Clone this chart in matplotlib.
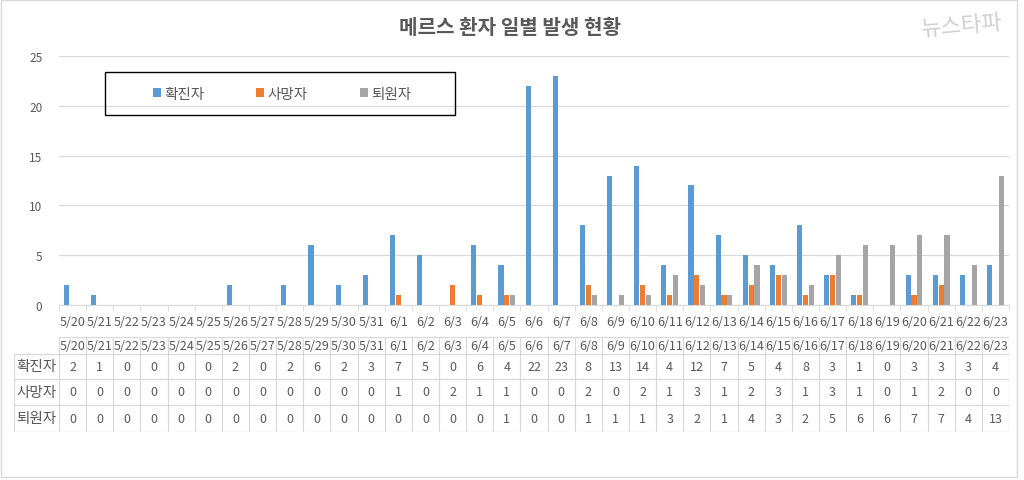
import matplotlib.pyplot as plt
import numpy as np
from matplotlib.patches import Rectangle

plt.rcParams['font.family'] = ['Noto Sans CJK KR', 'DejaVu Sans']

dates = ['5/20', '5/21', '5/22', '5/23', '5/24', '5/25', '5/26', '5/27', '5/28', '5/29', '5/30', '5/31',
         '6/1', '6/2', '6/3', '6/4', '6/5', '6/6', '6/7', '6/8', '6/9', '6/10', '6/11', '6/12', '6/13',
         '6/14', '6/15', '6/16', '6/17', '6/18', '6/19', '6/20', '6/21', '6/22', '6/23']
confirmed = [2, 1, 0, 0, 0, 0, 2, 0, 2, 6, 2, 3, 7, 5, 0, 6, 4, 22, 23, 8, 13, 14, 4, 12, 7,
             5, 4, 8, 3, 1, 0, 3, 3, 3, 4]
deaths = [0, 0, 0, 0, 0, 0, 0, 0, 0, 0, 0, 0, 1, 0, 2, 1, 1, 0, 0, 2, 0, 2, 1, 3, 1,
          2, 3, 1, 3, 1, 0, 1, 2, 0, 0]
discharged = [0, 0, 0, 0, 0, 0, 0, 0, 0, 0, 0, 0, 0, 0, 0, 0, 1, 0, 0, 1, 1, 1, 3, 2, 1,
              4, 3, 2, 5, 6, 6, 7, 7, 4, 13]
series_names = ['확진자', '사망자', '퇴원자']
colors = ['#5B9BD5', '#ED7D31', '#A5A5A5']

W, H = 1024, 481
TXT = '#595959'
GRID = '#D9D9D9'

fig = plt.figure(figsize=(W / 100, H / 100), dpi=100)


def fx(px):
    return px / W


def fy(py):
    return 1 - py / H


# main chart
ax = fig.add_axes([fx(59), fy(306), fx(1009) - fx(59), fy(57) - fy(306)])
x = np.arange(len(dates))
bw = 0.19
off = 0.215
series = [confirmed, deaths, discharged]
bars = []
for i, (vals, c) in enumerate(zip(series, colors)):
    b = ax.bar(x + (i - 1) * off, vals, width=bw, color=c, label=series_names[i], zorder=3)
    bars.append(b)

ax.set_xlim(-0.5, len(dates) - 0.5)
ax.set_ylim(0, 25)
ax.set_yticks(range(0, 26, 5))
ax.yaxis.grid(True, color=GRID, lw=0.9, zorder=0)
for s in ['top', 'right', 'left']:
    ax.spines[s].set_visible(False)
ax.spines['bottom'].set_color(GRID)
ax.tick_params(axis='y', length=0, pad=12, labelsize=8.5, labelcolor=TXT)
ax.set_xticks(x)
ax.set_xticklabels(dates)
ax.tick_params(axis='x', length=0, pad=7, labelsize=9, labelcolor=TXT)
ax.set_xticks(np.arange(-0.5, len(dates), 1), minor=True)
ax.tick_params(axis='x', which='minor', length=4, color=GRID)

# legend box
fig.patches.append(Rectangle((fx(105), fy(116)), fx(455) - fx(105), fy(73) - fy(116),
                             transform=fig.transFigure, fill=False, ec='black', lw=1.0))
fig.legend(handles=bars, labels=series_names, loc='center',
           bbox_to_anchor=(fx(282), fy(95)), ncol=3, frameon=False,
           handlelength=0.55, handleheight=0.55, handletextpad=0.2, columnspacing=3.6,
           prop={'size': 10.5}, labelcolor=TXT)

# data table
tx0, tx1 = 14, 1009
ncol = len(dates)
cw = (tx1 - 59) / ncol
left_w = (59 - tx0) / cw
tax = fig.add_axes([fx(tx0), fy(433), fx(tx1) - fx(tx0), fy(338) - fy(433)])
tax.set_xlim(-0.5 - left_w, ncol - 0.5)
rows_y = [0, 17, 42, 68, 95]
tax.set_ylim(95, 0)
tax.axis('off')
lkw = dict(color=GRID, lw=0.9)
# horizontal lines
tax.plot([-0.5, ncol - 0.5], [rows_y[0]] * 2, **lkw)
for ry in rows_y[1:]:
    tax.plot([-0.5 - left_w, ncol - 0.5], [ry] * 2, **lkw)
# vertical lines
for k in range(ncol + 1):
    tax.plot([k - 0.5] * 2, [rows_y[0], rows_y[-1]], **lkw)
tax.plot([-0.5 - left_w] * 2, [rows_y[1], rows_y[-1]], **lkw)
for k, d in enumerate(dates):
    tax.text(k, (rows_y[0] + rows_y[1]) / 2, d, ha='center', va='center', fontsize=9, color=TXT)
for r, (name, vals) in enumerate(zip(series_names, series)):
    yc = (rows_y[r + 1] + rows_y[r + 2]) / 2
    tax.text(-0.5 - left_w / 2, yc, name, ha='center', va='center', fontsize=10.5, color=TXT)
    for k, v in enumerate(vals):
        tax.text(k, yc, str(v), ha='center', va='center', fontsize=9, color=TXT)

# title and watermark
fig.text(fx(510), fy(28), '메르스 환자 일별 발생 현황', ha='center', va='center',
         fontsize=14.5, fontweight='bold', color=TXT)
fig.text(fx(962), fy(26), '뉴스타파', ha='center', va='center', fontsize=16,
         color='#D0D0D0', style='italic', rotation=5)

# outer frame
fig.patches.append(Rectangle((fx(1), fy(478)), fx(1017) - fx(1), fy(1) - fy(478),
                             transform=fig.transFigure, fill=False, ec=GRID, lw=1.0))

fig.savefig('out.png', dpi=100)
